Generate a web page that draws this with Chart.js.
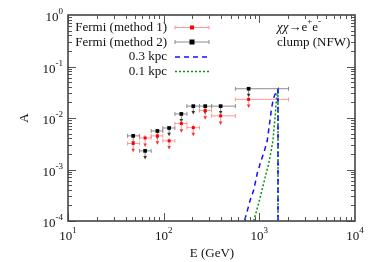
<!DOCTYPE html>
<html>
<head>
<meta charset="utf-8">
<script src="https://cdn.jsdelivr.net/npm/chart.js@4/dist/chart.umd.min.js"></script>
<style>
html, body { margin: 0; padding: 0; background: #fff; }
</style>
</head>
<body>
<canvas id="myChartCanvas" width="374" height="262"></canvas>
<script>
// Fermi points (GeV, A), bin edges and lower error ends
var energies = [48, 64, 86, 114, 153, 204, 272, 394, 773];
var bin_lo = [42, 56, 74, 98, 131, 175, 237, 317, 562];
var bin_hi = [56, 74, 98, 131, 175, 237, 317, 562, 2020];

var method1 = [3.2e-3, 4.1e-3, 4.5e-3, 3.6e-3, 7.8e-3, 6.5e-3, 1.4e-2, 1.1e-2, 2.3e-2];
var method1_lo = [2.2e-3, 2.8e-3, 3.1e-3, 2.5e-3, 5.3e-3, 4.5e-3, 9.5e-3, 7.5e-3, 1.6e-2];
var method1_hi = [3.7e-3, 4.7e-3, 5.2e-3, 4.1e-3, 9.0e-3, 7.5e-3, 1.6e-2, 1.27e-2, 2.65e-2];

var method2 = [4.5e-3, 2.3e-3, 5.6e-3, 6.4e-3, 1.2e-2, 1.7e-2, 1.7e-2, 1.7e-2, 3.7e-2];
var method2_lo = [3.1e-3, 1.6e-3, 3.9e-3, 4.5e-3, 8.4e-3, 1.2e-2, 1.2e-2, 1.2e-2, 2.6e-2];

// model curves
var kpc03_e = [703, 743, 805, 874, 952, 1033, 1137, 1211, 1253, 1302, 1334, 1390, 1448, 1531, 1567, 1568];
var kpc03_a = [1.04e-4, 1.5e-4, 2.6e-4, 4.0e-4, 8.5e-4, 1.4e-3, 2.4e-3, 3.7e-3, 5.9e-3, 9.9e-3, 1.43e-2, 2.2e-2, 2.8e-2, 3.4e-2, 3.6e-2, 1e-6];
var kpc01_e = [874, 908, 984, 1066, 1154, 1253, 1334, 1390, 1423, 1469, 1503, 1531, 1567, 1569];
var kpc01_a = [1.0e-4, 1.3e-4, 2.2e-4, 4.0e-4, 7.2e-4, 1.3e-3, 2.4e-3, 3.7e-3, 6.4e-3, 1.15e-2, 2.1e-2, 3.0e-2, 3.6e-2, 1e-6];

var x_ticks = [1, 2, 3, 4];
var y_ticks = [0, -1, -2, -3, -4];

var FONT = '"Liberation Serif", "Times New Roman", serif';
var red_bar = 'rgba(255,120,120,0.75)';
var black_bar = 'rgb(140,140,140)';

function to_points(xs, ys) {
    let pts = [];
    for (let i = 0; i < xs.length; i++) pts.push({x: xs[i], y: ys[i]});
    return pts;
}

function draw_power(ctx, exp, x, y, align) {
    ctx.font = '13px ' + FONT;
    let w1 = ctx.measureText('10').width;
    ctx.font = '9px ' + FONT;
    let w2 = ctx.measureText(exp).width;
    let x0 = align == 'right' ? x - w1 - w2 : x - (w1 + w2) / 2;
    ctx.textAlign = 'left';
    ctx.textBaseline = 'middle';
    ctx.fillStyle = '#111';
    ctx.font = '13px ' + FONT;
    ctx.fillText('10', x0, y);
    ctx.font = '9px ' + FONT;
    ctx.fillText(exp, x0 + w1, y - 6);
}

function draw_arrow(ctx, px, py, color) {
    ctx.fillStyle = color;
    ctx.beginPath();
    ctx.moveTo(px - 1.8, py - 3);
    ctx.lineTo(px + 1.8, py - 3);
    ctx.lineTo(px, py + 0.5);
    ctx.closePath();
    ctx.fill();
}

function draw_errorbars(chart, ys, ylo, yhi, barColor, arrowColor) {
    let ctx = chart.ctx;
    let xs = chart.scales.x, sy = chart.scales.y;
    ctx.save();
    ctx.lineWidth = 1;
    for (let i = 0; i < energies.length; i++) {
        let px = xs.getPixelForValue(energies[i]);
        let py = sy.getPixelForValue(ys[i]);
        let x1 = xs.getPixelForValue(bin_lo[i]);
        let x2 = xs.getPixelForValue(bin_hi[i]);
        ctx.strokeStyle = barColor;
        ctx.beginPath();
        ctx.moveTo(x1, py); ctx.lineTo(x2, py);
        ctx.moveTo(x1, py - 2); ctx.lineTo(x1, py + 2);
        ctx.moveTo(x2, py - 2); ctx.lineTo(x2, py + 2);
        let ytop = yhi ? sy.getPixelForValue(yhi[i]) : py;
        let ybot = sy.getPixelForValue(ylo[i]);
        ctx.moveTo(px, ytop); ctx.lineTo(px, ybot - 2);
        ctx.stroke();
        draw_arrow(ctx, px, ybot, arrowColor);
    }
    ctx.restore();
}

var errorbar_plugin = {
    id: 'errorbars',
    beforeDatasetsDraw: function(chart) {
        draw_errorbars(chart, method2, method2_lo, null, black_bar, '#333');
        draw_errorbars(chart, method1, method1_lo, method1_hi, red_bar, '#ff3030');
    }
};

var frame_plugin = {
    id: 'frame',
    afterDraw: function(chart) {
        let ctx = chart.ctx;
        let a = chart.chartArea;
        let xs = chart.scales.x, sy = chart.scales.y;
        ctx.save();
        ctx.strokeStyle = '#555';
        ctx.lineWidth = 1;
        ctx.beginPath();
        // x ticks, bottom and top
        for (let d = 1; d < 4; d++) {
            for (let k = 1; k < 10; k++) {
                let px = Math.round(xs.getPixelForValue(k * Math.pow(10, d))) + 0.5;
                let len = k == 1 ? 8 : 4;
                ctx.moveTo(px, a.bottom); ctx.lineTo(px, a.bottom - len);
                ctx.moveTo(px, a.top); ctx.lineTo(px, a.top + len);
            }
        }
        // y ticks, left and right
        for (let d = -4; d < 0; d++) {
            for (let k = 1; k < 10; k++) {
                let py = Math.round(sy.getPixelForValue(k * Math.pow(10, d))) + 0.5;
                let len = k == 1 ? 8 : 4;
                ctx.moveTo(a.left, py); ctx.lineTo(a.left + len, py);
                ctx.moveTo(a.right, py); ctx.lineTo(a.right - len, py);
            }
        }
        ctx.stroke();
        ctx.lineWidth = 1.6;
        ctx.strokeStyle = '#444';
        ctx.strokeRect(a.left, a.top, a.right - a.left, a.bottom - a.top);

        // tick labels
        for (let i = 0; i < x_ticks.length; i++) {
            draw_power(ctx, String(x_ticks[i]), xs.getPixelForValue(Math.pow(10, x_ticks[i])), a.bottom + 16, 'center');
        }
        for (let i = 0; i < y_ticks.length; i++) {
            draw_power(ctx, String(y_ticks[i]), a.left - 5, sy.getPixelForValue(Math.pow(10, y_ticks[i])) + 3, 'right');
        }

        // axis titles
        ctx.fillStyle = '#111';
        ctx.font = '13px ' + FONT;
        ctx.textAlign = 'center';
        ctx.textBaseline = 'middle';
        ctx.fillText('E (GeV)', (a.left + a.right) / 2 + 0.5, 254);
        ctx.save();
        ctx.translate(25, (a.top + a.bottom) / 2);
        ctx.rotate(-Math.PI / 2);
        ctx.fillText('A', 0, 0);
        ctx.restore();

        // process label
        ctx.textAlign = 'left';
        ctx.font = 'italic 13px ' + FONT;
        ctx.fillText('\u03c7\u03c7', 277, 28);
        let w = ctx.measureText('\u03c7\u03c7').width;
        ctx.font = '13px ' + FONT;
        ctx.fillText('\u2192e', 277 + w, 28);
        let w2 = ctx.measureText('\u2192e').width;
        ctx.font = '9px ' + FONT;
        ctx.fillText('+', 277 + w + w2, 22);
        ctx.font = '13px ' + FONT;
        ctx.fillText('e', 277 + w + w2 + 5, 28);
        let w3 = ctx.measureText('e').width;
        ctx.font = '9px ' + FONT;
        ctx.fillText('-', 277 + w + w2 + 5 + w3, 22);
        ctx.font = '13px ' + FONT;
        ctx.fillText('clump (NFW)', 277, 43);

        // legend
        let rows = [28, 42.5, 57, 71.5];
        let names = ['Fermi (method 1)', 'Fermi (method 2)', '0.3 kpc', '0.1 kpc'];
        ctx.textAlign = 'right';
        for (let i = 0; i < 4; i++) {
            ctx.fillStyle = '#111';
            ctx.fillText(names[i], 167, rows[i]);
        }
        let errs = [[red_bar, '#ff0000', 4], [black_bar, '#000', 5]];
        for (let i = 0; i < 2; i++) {
            let y = rows[i] - 0.5;
            ctx.strokeStyle = errs[i][0];
            ctx.lineWidth = 1;
            ctx.beginPath();
            ctx.moveTo(175, y); ctx.lineTo(209, y);
            ctx.moveTo(175, y - 2); ctx.lineTo(175, y + 2);
            ctx.moveTo(209, y - 2); ctx.lineTo(209, y + 2);
            ctx.stroke();
            let s = errs[i][2];
            ctx.fillStyle = errs[i][1];
            ctx.fillRect(192 - s / 2, y - s / 2, s, s);
        }
        ctx.lineWidth = 1.5;
        ctx.strokeStyle = '#1010ff';
        ctx.setLineDash([5, 4]);
        ctx.beginPath(); ctx.moveTo(175, rows[2]); ctx.lineTo(209, rows[2]); ctx.stroke();
        ctx.strokeStyle = '#109010';
        ctx.setLineDash([2, 2]);
        ctx.beginPath(); ctx.moveTo(175, rows[3]); ctx.lineTo(209, rows[3]); ctx.stroke();
        ctx.restore();
    }
};

var chart = new Chart(document.getElementById('myChartCanvas'), {
    type: 'scatter',
    data: {
        datasets: [
            {
                label: '0.3 kpc',
                data: to_points(kpc03_e, kpc03_a),
                showLine: true,
                borderColor: '#1010ff',
                borderWidth: 1.5,
                borderDash: [5, 4],
                pointRadius: 0,
                tension: 0
            },
            {
                label: '0.1 kpc',
                data: to_points(kpc01_e, kpc01_a),
                showLine: true,
                borderColor: '#109010',
                borderWidth: 1.5,
                borderDash: [2, 2],
                pointRadius: 0,
                tension: 0
            },
            {
                label: 'Fermi (method 2)',
                data: to_points(energies, method2),
                pointStyle: 'rect',
                pointRadius: 2.6,
                backgroundColor: '#000',
                borderWidth: 0
            },
            {
                label: 'Fermi (method 1)',
                data: to_points(energies, method1),
                pointStyle: 'rect',
                pointRadius: 2.1,
                backgroundColor: '#ff0000',
                borderWidth: 0
            }
        ]
    },
    options: {
        responsive: false,
        animation: false,
        devicePixelRatio: 1,
        layout: { padding: { left: 68, top: 15, right: 19, bottom: 41 } },
        scales: {
            x: { type: 'logarithmic', min: 10, max: 10000, display: false },
            y: { type: 'logarithmic', min: 1e-4, max: 1, display: false }
        },
        plugins: {
            legend: { display: false },
            tooltip: { enabled: false }
        }
    },
    plugins: [errorbar_plugin, frame_plugin]
});
</script>
</body>
</html>
